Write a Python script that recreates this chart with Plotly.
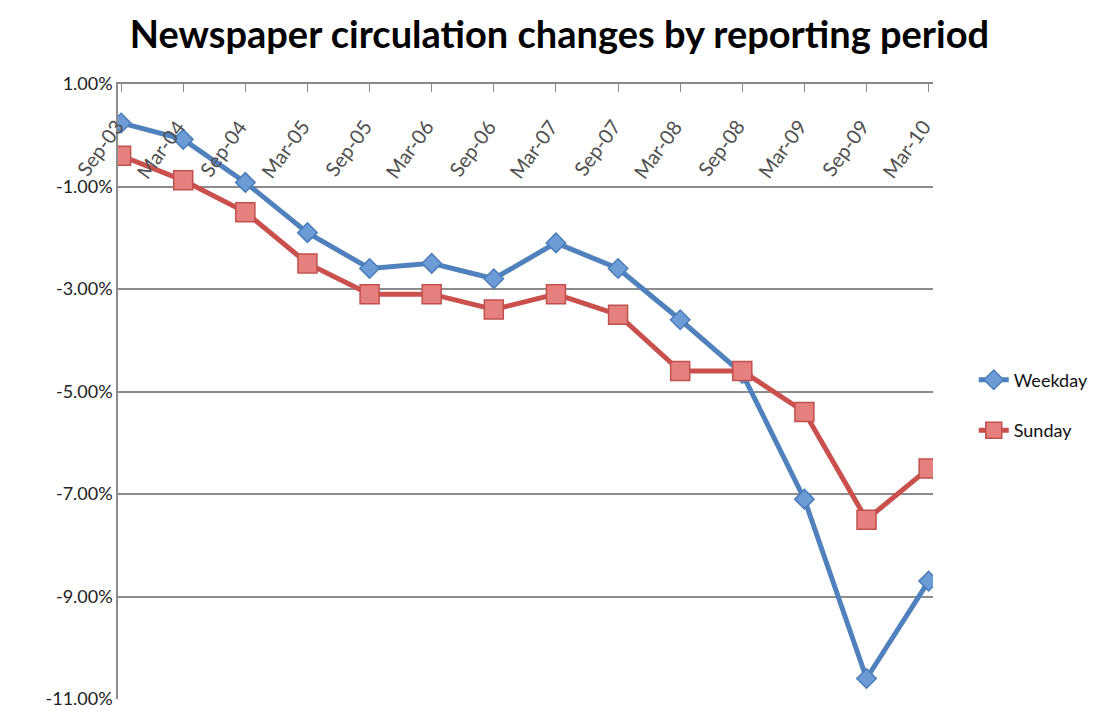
import plotly.graph_objects as go

periods = ["Sep-03", "Mar-04", "Sep-04", "Mar-05", "Sep-05", "Mar-06", "Sep-06",
           "Mar-07", "Sep-07", "Mar-08", "Sep-08", "Mar-09", "Sep-09", "Mar-10"]
weekday = [0.24, -0.08, -0.92, -1.9, -2.6, -2.5, -2.8, -2.1, -2.6, -3.6, -4.65, -7.1, -10.6, -8.7]
sunday = [-0.4, -0.88, -1.5, -2.5, -3.1, -3.1, -3.4, -3.1, -3.5, -4.6, -4.6, -5.4, -7.5, -6.5]
ytick_vals = [1, -1, -3, -5, -7, -9, -11]
ytick_text = ["1.00%", "-1.00%", "-3.00%", "-5.00%", "-7.00%", "-9.00%", "-11.00%"]

fig = go.Figure()
fig.add_trace(go.Scatter(
    x=periods, y=weekday, name="Weekday", mode="lines+markers",
    line=dict(color="#4F81BD", width=5),
    marker=dict(symbol="diamond", size=15, color="#6C9BD6", line=dict(color="#4A7EBB", width=1.5)),
    legendgroup="a",
))
fig.add_trace(go.Scatter(
    x=periods, y=sunday, name="Sunday", mode="lines+markers",
    line=dict(color="#C9504D", width=5),
    marker=dict(symbol="square", size=19, color="#E6807E", line=dict(color="#C0504D", width=1.5)),
    legendgroup="b",
))

for p in periods:
    fig.add_annotation(
        x=p, y=0.45, xref="x", yref="y", text=p, showarrow=False,
        textangle=-54, xanchor="right", yanchor="top", xshift=9,
        font=dict(family="Lato, sans-serif", size=20, color="#505050"),
    )

fig.update_layout(
    width=1105, height=713,
    paper_bgcolor="white", plot_bgcolor="white",
    margin=dict(l=110, r=180, t=76, b=18),
    title=dict(text="<b>Newspaper circulation changes by reporting period</b>",
               x=0.499, xanchor="center", y=0.962, yanchor="middle",
               font=dict(family="Lato, sans-serif", size=38, color="#000000")),
    xaxis=dict(type="category", categoryorder="array", categoryarray=periods,
               range=[-0.05, 13.07], side="top", showticklabels=False,
               ticks="inside", ticklen=8, tickcolor="#888888",
               showline=True, linecolor="#888888", linewidth=1.5,
               showgrid=False, zeroline=False),
    yaxis=dict(range=[-11, 1], tickvals=ytick_vals, ticktext=ytick_text,
               showgrid=True, gridcolor="#8C8C8C", gridwidth=1.5,
               showline=True, linecolor="#8C8C8C", linewidth=1.5,
               zeroline=False, ticks="", ticklen=0,
               tickfont=dict(family="Lato, sans-serif", size=18, color="#222222")),
    legend=dict(x=1.05, y=0.478, xanchor="left", yanchor="middle",
                traceorder="grouped", tracegroupgap=24,
                font=dict(family="Lato, sans-serif", size=18, color="#111111"),
                bgcolor="rgba(0,0,0,0)"),
    showlegend=True,
)

fig.write_html("out.html")
